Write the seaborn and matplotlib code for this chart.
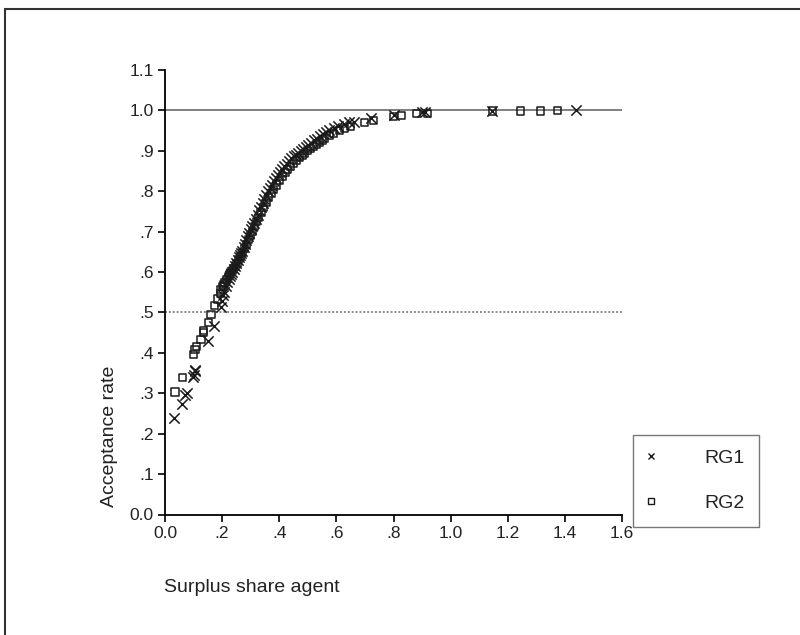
import matplotlib
matplotlib.use("Agg")
import matplotlib.pyplot as plt
import seaborn as sns
import pandas as pd
from matplotlib.lines import Line2D

rg1_x = [0.032, 0.058, 0.070, 0.076, 0.098, 0.100, 0.104, 0.106, 0.152, 0.173, 0.195, 0.200, 0.202, 0.206,
         0.212, 0.218, 0.224, 0.228, 0.232, 0.236, 0.240, 0.245, 0.250, 0.254, 0.258, 0.262, 0.266, 0.270,
         0.275, 0.280, 0.285, 0.290, 0.295, 0.300, 0.306, 0.312, 0.318, 0.324, 0.330, 0.336, 0.342, 0.348,
         0.354, 0.360, 0.367, 0.374, 0.381, 0.388, 0.395, 0.402, 0.410, 0.418, 0.426, 0.434, 0.442, 0.450,
         0.458, 0.466, 0.475, 0.484, 0.493, 0.502, 0.512, 0.522, 0.532, 0.542, 0.552, 0.562, 0.575, 0.590,
         0.605, 0.625, 0.645, 0.660, 0.720, 0.800, 0.899, 0.910, 1.146, 1.438]
rg1_y = [0.239, 0.273, 0.296, 0.300, 0.341, 0.346, 0.354, 0.358, 0.430, 0.467, 0.514, 0.527, 0.543, 0.550,
         0.565, 0.575, 0.583, 0.590, 0.595, 0.600, 0.607, 0.615, 0.623, 0.630, 0.636, 0.642, 0.647, 0.653,
         0.662, 0.670, 0.680, 0.688, 0.697, 0.705, 0.714, 0.722, 0.731, 0.740, 0.752, 0.760, 0.770, 0.780,
         0.790, 0.800, 0.808, 0.816, 0.824, 0.832, 0.840, 0.847, 0.855, 0.862, 0.868, 0.875, 0.881, 0.886,
         0.890, 0.895, 0.900, 0.905, 0.910, 0.915, 0.920, 0.926, 0.930, 0.936, 0.940, 0.946, 0.950, 0.955,
         0.962, 0.965, 0.970, 0.972, 0.980, 0.988, 0.996, 0.995, 0.998, 1.000]

rg2_x = [0.035, 0.060, 0.100, 0.105, 0.111, 0.126, 0.134, 0.136, 0.152, 0.161, 0.173, 0.184, 0.193, 0.196, 0.200,
         0.205, 0.210, 0.216, 0.222, 0.226, 0.230, 0.235, 0.240, 0.246, 0.252, 0.258, 0.264, 0.270, 0.277,
         0.284, 0.291, 0.298, 0.305, 0.312, 0.320, 0.328, 0.336, 0.345, 0.354, 0.363, 0.372, 0.381, 0.390,
         0.400, 0.410, 0.420, 0.430, 0.440, 0.450, 0.460, 0.470, 0.480, 0.490, 0.500, 0.510, 0.520, 0.530,
         0.540, 0.550, 0.560, 0.575, 0.590, 0.610, 0.630, 0.650, 0.700, 0.729, 0.800, 0.829, 0.881, 0.920,
         1.146, 1.245, 1.315, 1.374]
rg2_y = [0.303, 0.340, 0.395, 0.409, 0.416, 0.434, 0.451, 0.455, 0.476, 0.494, 0.517, 0.533, 0.547, 0.556, 0.564,
         0.570, 0.575, 0.582, 0.588, 0.594, 0.598, 0.603, 0.608, 0.614, 0.622, 0.630, 0.638, 0.647, 0.657,
         0.668, 0.680, 0.690, 0.700, 0.712, 0.724, 0.735, 0.748, 0.760, 0.772, 0.784, 0.795, 0.805, 0.815,
         0.826, 0.836, 0.845, 0.853, 0.861, 0.868, 0.875, 0.882, 0.888, 0.894, 0.900, 0.905, 0.910, 0.915,
         0.920, 0.925, 0.930, 0.937, 0.943, 0.950, 0.955, 0.960, 0.969, 0.974, 0.985, 0.988, 0.992, 0.992,
         0.998, 0.998, 0.998, 1.000]

x_ticks = [0.0, 0.2, 0.4, 0.6, 0.8, 1.0, 1.2, 1.4, 1.6]
x_tick_labels = ["0.0", ".2", ".4", ".6", ".8", "1.0", "1.2", "1.4", "1.6"]
y_ticks = [0.0, 0.1, 0.2, 0.3, 0.4, 0.5, 0.6, 0.7, 0.8, 0.9, 1.0, 1.1]
y_tick_labels = ["0.0", ".1", ".2", ".3", ".4", ".5", ".6", ".7", ".8", ".9", "1.0", "1.1"]
ref_lines = [1.0, 0.5]

sns.set_theme(style="white")
plt.rcParams['font.family'] = ['Liberation Sans', 'DejaVu Sans']

df1 = pd.DataFrame({"x": rg1_x, "y": rg1_y})
df2 = pd.DataFrame({"x": rg2_x, "y": rg2_y})

fig = plt.figure(figsize=(8.0, 6.35), dpi=100)
ax = fig.add_axes([165 / 800, 1 - 514.5 / 635, (622 - 165) / 800, (514.5 - 69.8) / 635])

ax.axhline(ref_lines[0], color="#7f7f7f", lw=1.4, zorder=1)
ax.axhline(ref_lines[1], color="#8a8a8a", lw=1.4, ls=(0, (1, 1)), zorder=1)

sns.scatterplot(data=df1, x="x", y="y", ax=ax, marker="x", color="#1a1a1a",
                s=55, linewidth=1.1, zorder=3, legend=False)
sns.scatterplot(data=df2, x="x", y="y", ax=ax, marker="s", facecolor="none",
                edgecolor="#1a1a1a", s=26, linewidth=1.1, zorder=3, legend=False)

ax.set_xlim(0, 1.6)
ax.set_ylim(0, 1.1)
ax.set_xticks(x_ticks)
ax.set_xticklabels(x_tick_labels)
ax.set_yticks(y_ticks)
ax.set_yticklabels(y_tick_labels)
ax.tick_params(axis="both", direction="out", length=5, width=1.2, color="black",
               labelsize=12.5, labelcolor="#222222", pad=3, left=True, bottom=True)
for s in ["top", "right"]:
    ax.spines[s].set_visible(False)
for s in ["left", "bottom"]:
    ax.spines[s].set_color("black")
    ax.spines[s].set_linewidth(1.3)
ax.set_xlabel("")
ax.set_ylabel("")

fig.text(109 / 800, 1 - 436 / 635, "Acceptance rate", rotation=90, fontsize=14,
         ha="center", va="center", color="#222222")
fig.text(164 / 800, 1 - 588 / 635, "Surplus share agent", fontsize=14,
         ha="left", va="center", color="#222222")

handles = [Line2D([], [], marker="x", ls="", color="#1a1a1a", markersize=5, markeredgewidth=1.0),
           Line2D([], [], marker="s", ls="", markerfacecolor="none", markeredgecolor="#1a1a1a",
                  markersize=4, markeredgewidth=1.0)]
leg = fig.legend(handles, ["RG1", "RG2"], loc="upper left",
                 bbox_to_anchor=(633 / 800, 1 - 435 / 635), bbox_transform=fig.transFigure,
                 fontsize=14, frameon=True, fancybox=False, handlelength=0.3,
                 handletextpad=2.6, labelspacing=1.4, borderpad=0.75, borderaxespad=0)
leg.get_frame().set_edgecolor("#555555")
leg.get_frame().set_linewidth(1.0)
for t in leg.get_texts():
    t.set_color("#222222")

fig.add_artist(Line2D([5 / 800, 5 / 800], [0, 1 - 9 / 635], color="#333333", lw=1.5,
                      transform=fig.transFigure))
fig.add_artist(Line2D([5 / 800, 1], [1 - 9 / 635, 1 - 9 / 635], color="#333333", lw=1.5,
                      transform=fig.transFigure))

fig.savefig("out.png", dpi=100)
